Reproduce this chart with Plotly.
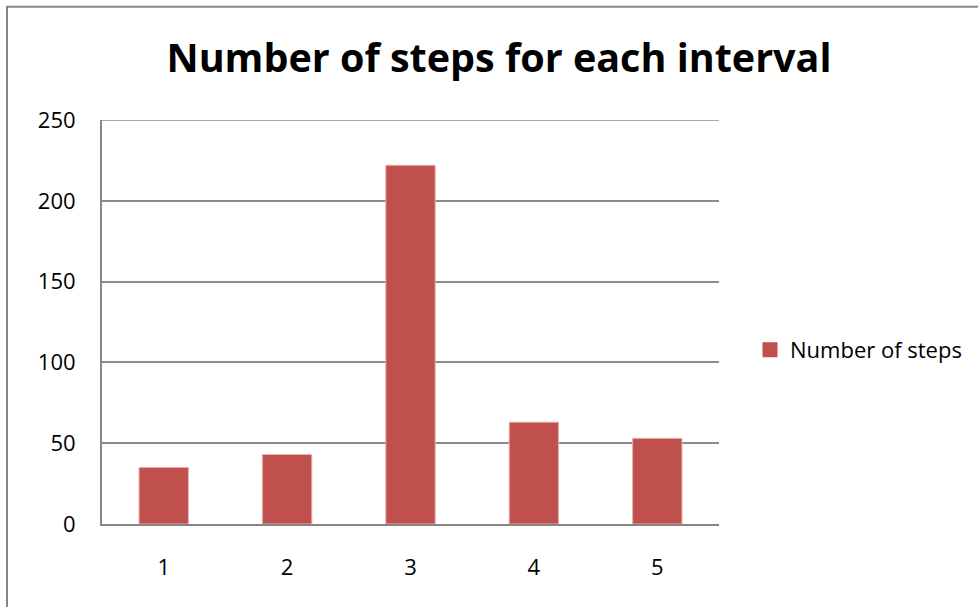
import plotly.graph_objects as go

categories = ["1", "2", "3", "4", "5"]
steps = [35, 43, 222, 63, 53]
y_ticks = [0, 50, 100, 150, 200, 250]
series_name = "Number of steps"
title_text = "Number of steps for each interval"

W, H = 978, 607
L, R, T, B = 102, 719, 119.5, 524.5
pw, ph = R - L, B - T
BAR_COLOR = "#C0504D"
GRID = "#8C8C8C"

def px_x(x):
    return (x - L) / pw

def px_y(y):
    return (B - y) / ph

fig = go.Figure()
fig.add_trace(go.Bar(
    x=categories, y=steps, name=series_name,
    marker=dict(color=BAR_COLOR, line=dict(color="#E6B0AE", width=1)),
    width=0.4, showlegend=False,
))
# legend entry with a larger square swatch
fig.add_trace(go.Scatter(
    x=[None], y=[None], mode="markers", name=series_name,
    marker=dict(symbol="square", size=15, color=BAR_COLOR), showlegend=True,
))

fig.update_layout(
    width=W, height=H,
    margin=dict(l=L, r=W - R, t=T, b=H - B, autoexpand=False),
    paper_bgcolor="white", plot_bgcolor="white",
    font=dict(family="Open Sans, Lato, sans-serif", color="black", size=22),
    title=dict(text="<b>" + title_text + "</b>",
               x=px_x(499), xref="paper", xanchor="center",
               y=1 - 58 / H, yref="container", yanchor="middle",
               font=dict(size=39.5, family="Open Sans, sans-serif", color="black")),
    showlegend=True,
    legend=dict(x=px_x(750), y=px_y(350), xanchor="left", yanchor="middle",
                font=dict(size=22), bgcolor="rgba(0,0,0,0)"),
    xaxis=dict(type="category", showline=True, linecolor="#868686", linewidth=2,
               showgrid=False, ticks="", ticklabelstandoff=23,
               tickfont=dict(size=22)),
    yaxis=dict(range=[0, 250], tickvals=y_ticks, showline=True, linecolor="#868686",
               linewidth=2, showgrid=True, gridcolor=GRID, gridwidth=1.5,
               ticks="", ticklabelstandoff=20, zeroline=False,
               tickfont=dict(size=22)),
    shapes=[
        dict(type="rect", xref="paper", yref="paper",
             x0=px_x(7), x1=px_x(1100), y0=px_y(700), y1=px_y(6),
             line=dict(color="#868686", width=2), fillcolor="rgba(0,0,0,0)",
             layer="below"),
        dict(type="line", xref="paper", yref="y", x0=0, x1=1,
             y0=y_ticks[-1], y1=y_ticks[-1],
             line=dict(color=GRID, width=1.5), layer="below"),
    ],
)

fig.write_html("out.html")
